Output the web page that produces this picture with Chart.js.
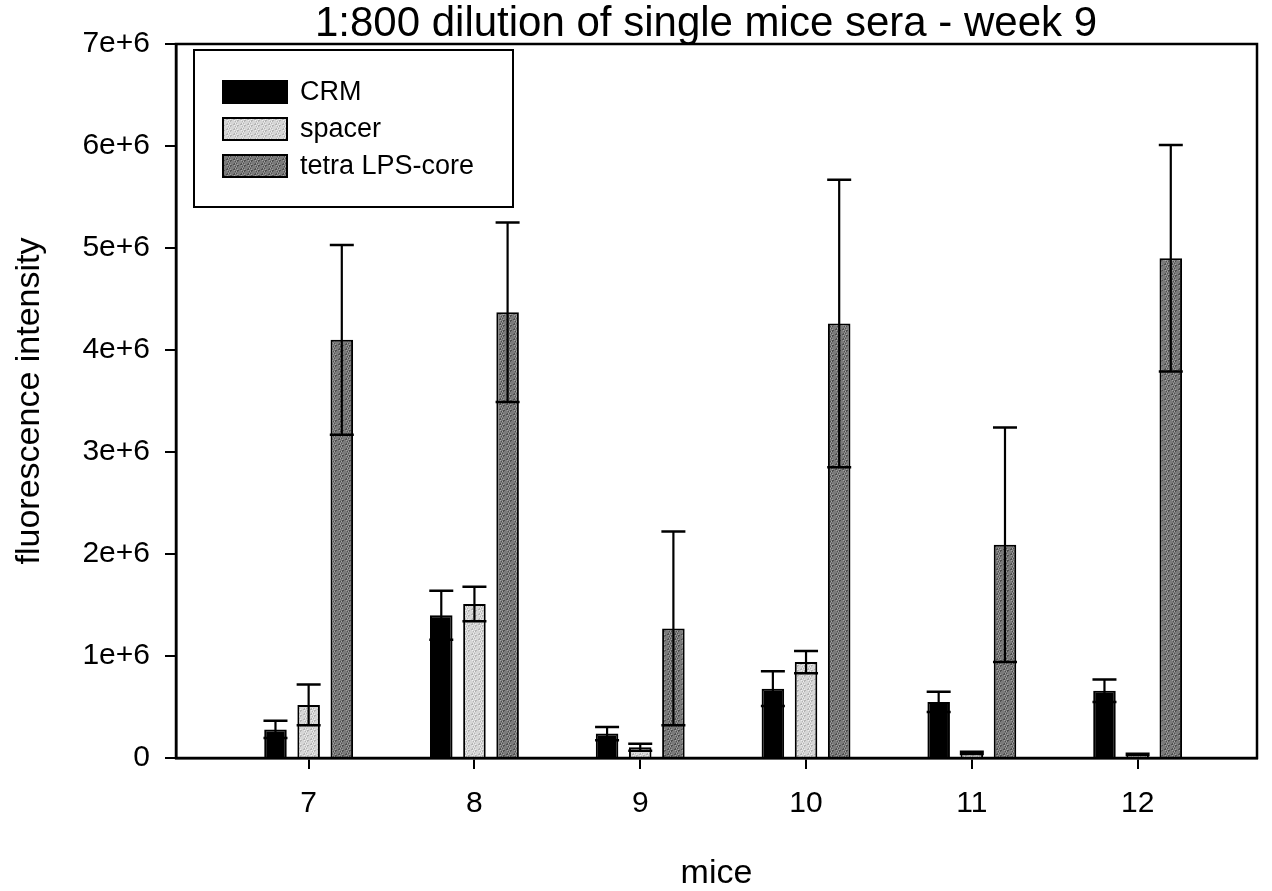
<!DOCTYPE html>
<html>
<head>
<meta charset="utf-8">
<script src="https://cdn.jsdelivr.net/npm/chart.js@4.4.0/dist/chart.umd.min.js"></script>
<style>
    html, body { margin: 0; padding: 0; background: #fff; }
    #wrap { width: 1272px; height: 891px; }
</style>
</head>
<body>
<div id="wrap"><canvas id="chart" width="1272" height="891"></canvas></div>
<script>
// mice on the x axis
const mice = [7, 8, 9, 10, 11, 12]

// mean fluorescence and error for each antigen
const crmMeans = [0.28e6, 1.40e6, 0.24e6, 0.68e6, 0.55e6, 0.66e6]
const crmErrors = [0.085e6, 0.24e6, 0.065e6, 0.17e6, 0.10e6, 0.11e6]
const spacerMeans = [0.52e6, 1.51e6, 0.105e6, 0.94e6, 0.05e6, 0.035e6]
const spacerErrors = [0.20e6, 0.17e6, 0.035e6, 0.11e6, 0.012e6, 0.006e6]
const tetraMeans = [4.10e6, 4.37e6, 1.27e6, 4.26e6, 2.09e6, 4.90e6]
const tetraErrors = [0.93e6, 0.88e6, 0.95e6, 1.41e6, 1.15e6, 1.11e6]

const seriesNames = ["CRM", "spacer", "tetra LPS-core"]
const chartTitle = "1:800 dilution of single mice sera - week 9"

const yTicks = [0, 1e6, 2e6, 3e6, 4e6, 5e6, 6e6, 7e6]
const yTickLabels = ["0", "1e+6", "2e+6", "3e+6", "4e+6", "5e+6", "6e+6", "7e+6"]

const fontFamily = "'Liberation Sans', Arial, sans-serif"

// Stippled fills to look like the printed halftone
const makePattern = (base, dark, light) => {
    const c = document.createElement("canvas")
    c.width = 7
    c.height = 5
    const g = c.getContext("2d")
    g.fillStyle = base
    g.fillRect(0, 0, 7, 5)
    for (let i = 0; i < 7; i++) {
        for (let j = 0; j < 5; j++) {
            const k = (i * 3 + j * 5 + i * j * 2) % 7
            if (k === 0 || k === 4) { g.fillStyle = dark; g.fillRect(i, j, 1, 1) }
            if (k === 2) { g.fillStyle = light; g.fillRect(i, j, 1, 1) }
        }
    }
    return g.createPattern(c, "repeat")
}

const ctx = document.getElementById("chart").getContext("2d")
const spacerFill = makePattern("#d6d6d6", "#b4b4b4", "#f0f0f0")
const tetraFill = makePattern("#7a7a7a", "#4e4e4e", "#a4a4a4")
const fills = ["#000000", spacerFill, tetraFill]
const errors = [crmErrors, spacerErrors, tetraErrors]

const toPoints = (values) => mice.map((m, i) => ({ x: m, y: values[i] }))

// Error bars drawn from mean - err to mean + err
const errorBars = {
    id: "errorBars",
    afterDatasetsDraw(chart) {
        const c = chart.ctx
        const yScale = chart.scales.y
        c.save()
        c.strokeStyle = "#000"
        chart.data.datasets.forEach((ds, d) => {
            const meta = chart.getDatasetMeta(d)
            meta.data.forEach((bar, i) => {
                const mean = ds.data[i].y
                const err = errors[d][i]
                const top = yScale.getPixelForValue(mean + err)
                const bottom = yScale.getPixelForValue(mean - err)
                c.lineWidth = 2.2
                c.beginPath()
                c.moveTo(bar.x, top)
                c.lineTo(bar.x, bottom)
                c.stroke()
                c.lineWidth = 2.5
                c.beginPath()
                c.moveTo(bar.x - 12, top)
                c.lineTo(bar.x + 12, top)
                c.moveTo(bar.x - 12, bottom)
                c.lineTo(bar.x + 12, bottom)
                c.stroke()
            })
        })
        c.restore()
    }
}

// Title, box round the plot and the boxed legend in the upper left
const frameAndLegend = {
    id: "frameAndLegend",
    afterDraw(chart) {
        const c = chart.ctx
        const a = chart.chartArea
        c.save()
        c.fillStyle = "#000"
        c.font = "42px " + fontFamily
        c.textAlign = "center"
        c.textBaseline = "alphabetic"
        c.fillText(chartTitle, 706, 36)

        c.strokeStyle = "#000"
        c.lineWidth = 2.5
        c.strokeRect(a.left, a.top, a.right - a.left, a.bottom - a.top)

        c.fillStyle = "#fff"
        c.fillRect(194, 50, 319, 157)
        c.lineWidth = 2
        c.strokeRect(194, 50, 319, 157)

        c.font = "27px " + fontFamily
        c.textAlign = "left"
        c.textBaseline = "middle"
        seriesNames.forEach((name, i) => {
            const y = 81 + i * 37
            c.fillStyle = fills[i]
            c.fillRect(223, y, 64, 22)
            c.lineWidth = 2
            c.strokeRect(223, y, 64, 22)
            c.fillStyle = "#000"
            c.fillText(name, 300, y + 12)
        })
        c.restore()
    }
}

const axisCommon = {
    offset: false,
    grid: { display: true, offset: false, drawOnChartArea: false, drawTicks: true, tickLength: 11, color: "#000", lineWidth: 2 },
    border: { display: true, color: "#000", width: 2.5 }
}

new Chart(ctx, {
    type: "bar",
    data: {
        datasets: seriesNames.map((name, d) => ({
            label: name,
            data: toPoints([crmMeans, spacerMeans, tetraMeans][d]),
            backgroundColor: fills[d],
            borderColor: "#000",
            borderWidth: 2,
            categoryPercentage: 0.6,
            barPercentage: 0.68
        }))
    },
    options: {
        responsive: false,
        animation: false,
        layout: { padding: { left: 0, right: 15, top: 44, bottom: 0 } },
        plugins: {
            legend: { display: false },
            tooltip: { enabled: false },
            title: { display: false }
        },
        scales: {
            x: {
                ...axisCommon,
                type: "linear",
                min: 6.2,
                max: 12.72,
                afterBuildTicks: (scale) => { scale.ticks = mice.map((m) => ({ value: m })) },
                afterFit: (scale) => { scale.height = 133 },
                ticks: { color: "#000", padding: 17, font: { family: fontFamily, size: 30 }, callback: (v) => String(v) },
                title: { display: true, text: "mice", color: "#000", padding: { top: 0, bottom: 0 }, font: { family: fontFamily, size: 34, lineHeight: 1 } }
            },
            y: {
                ...axisCommon,
                min: 0,
                max: 7e6,
                afterBuildTicks: (scale) => { scale.ticks = yTicks.map((v) => ({ value: v })) },
                afterFit: (scale) => { scale.width = 176 },
                ticks: { color: "#000", padding: 15, font: { family: fontFamily, size: 30 }, callback: (v, i) => yTickLabels[i] },
                title: { display: true, text: "fluorescence intensity", color: "#000", padding: { top: 13, bottom: 0 }, font: { family: fontFamily, size: 34, lineHeight: 1 } }
            }
        }
    },
    plugins: [errorBars, frameAndLegend]
})
</script>
</body>
</html>
